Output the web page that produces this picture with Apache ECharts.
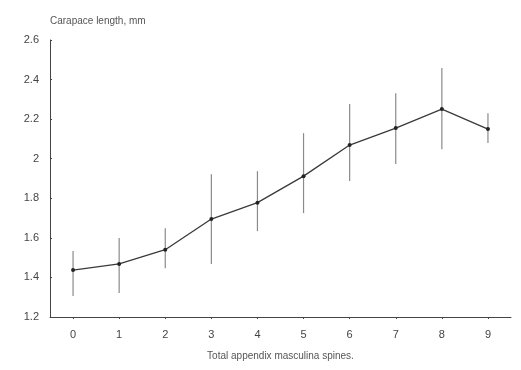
<!DOCTYPE html>
<html>
<head>
<meta charset="utf-8">
<script src="https://cdn.jsdelivr.net/npm/echarts@6/dist/echarts.min.js"></script>
<style>html,body{margin:0;padding:0;background:#fff}#c{width:521px;height:370px}</style>
</head>
<body>
<div id="c"></div>
<script>
var categories = ['0','1','2','3','4','5','6','7','8','9'];
var means = [1.437, 1.468, 1.540, 1.695, 1.778, 1.912, 2.069, 2.155, 2.251, 2.150];
var lows  = [1.306, 1.321, 1.447, 1.468, 1.634, 1.725, 1.887, 1.973, 2.048, 2.079];
var highs = [1.533, 1.599, 1.649, 1.922, 1.937, 2.129, 2.276, 2.331, 2.458, 2.230];
var yTicks = [1.2, 1.4, 1.6, 1.8, 2, 2.2, 2.4, 2.6];

var errData = categories.map(function (c, i) { return [i, lows[i], highs[i]]; });

var chart = echarts.init(document.getElementById('c'), null, {renderer: 'canvas'});
chart.setOption({
  backgroundColor: '#ffffff',
  animation: false,
  textStyle: {fontFamily: 'Liberation Sans, Arial, sans-serif'},
  grid: {left: 50, right: 10, top: 40, bottom: 53},
  xAxis: {
    type: 'category',
    data: categories,
    boundaryGap: true,
    name: 'Total appendix masculina spines.',
    nameLocation: 'middle',
    nameGap: 34,
    nameTextStyle: {fontSize: 10, color: '#555'},
    axisLine: {lineStyle: {color: '#444', width: 1}},
    axisTick: {show: true, alignWithLabel: true, length: 2, lineStyle: {color: '#444'}},
    axisLabel: {fontSize: 11, color: '#444', margin: 12},
    splitLine: {show: false}
  },
  yAxis: {
    type: 'value',
    min: 1.2,
    max: 2.6,
    interval: 0.2,
    name: 'Carapace length, mm',
    nameLocation: 'end',
    nameGap: 14,
    nameTextStyle: {fontSize: 10, color: '#555', align: 'left'},
    axisLine: {show: true, lineStyle: {color: '#444', width: 1}},
    axisTick: {show: true, length: 2, inside: true, lineStyle: {color: '#444'}},
    axisLabel: {fontSize: 11, color: '#444', margin: 11,
      formatter: function (v) {
        for (var k = 0; k < yTicks.length; k++) {
          if (Math.abs(yTicks[k] - v) < 1e-6) return String(yTicks[k]);
        }
        return '';
      }},
    splitLine: {show: false}
  },
  series: [
    {
      type: 'custom',
      data: errData,
      renderItem: function (params, api) {
        var i = api.value(0);
        var p1 = api.coord([i, api.value(1)]);
        var p2 = api.coord([i, api.value(2)]);
        return {
          type: 'line',
          shape: {x1: p1[0], y1: p1[1], x2: p2[0], y2: p2[1]},
          style: {stroke: '#8a8a8a', lineWidth: 1.2}
        };
      },
      encode: {x: 0, y: [1, 2]},
      z: 1
    },
    {
      type: 'line',
      data: means,
      symbol: 'circle',
      symbolSize: 4,
      itemStyle: {color: '#222'},
      lineStyle: {color: '#3a3a3a', width: 1.3},
      z: 2
    }
  ]
});
</script>
</body>
</html>
